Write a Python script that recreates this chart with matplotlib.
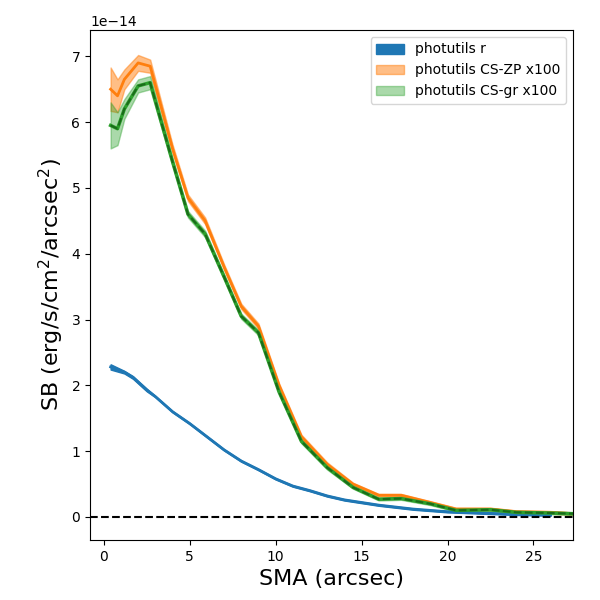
import numpy as np
import matplotlib
matplotlib.use("Agg")
import matplotlib.pyplot as plt

# blue profile (photutils r)
sma_r = [0.4, 0.8, 1.2, 1.7, 2.5, 3.0, 4.0, 5.0, 6.0, 7.0, 8.0, 9.0, 10.0, 11.0, 12.0,
         13.0, 14.0, 15.0, 16.0, 17.0, 18.0, 19.0, 20.0, 22.0, 24.0, 26.0]
sb_r = [2.28, 2.24, 2.2, 2.12, 1.93, 1.83, 1.6, 1.42, 1.22, 1.02, 0.85, 0.72, 0.58, 0.47, 0.4,
        0.32, 0.26, 0.22, 0.18, 0.15, 0.12, 0.10, 0.08, 0.06, 0.04, 0.03]
err_r = [0.04, 0.03, 0.02, 0.02, 0.02, 0.01, 0.01, 0.01, 0.01, 0.01, 0.01, 0.01, 0.01, 0.01, 0.01,
         0.01, 0.01, 0.01, 0.01, 0.01, 0.01, 0.01, 0.01, 0.01, 0.01, 0.01]

# colour-corrected profiles (x100)
sma_c = [0.4, 0.8, 1.2, 2.0, 2.7, 4.0, 4.9, 5.9, 7.0, 8.0, 9.0, 10.2, 11.5, 13.0, 14.5,
         16.0, 17.3, 19.0, 20.5, 22.5, 24.0, 26.0, 27.3]
sb_zp = [6.5, 6.4, 6.65, 6.9, 6.85, 5.6, 4.85, 4.5, 3.8, 3.2, 2.9, 2.0, 1.22, 0.8, 0.5,
         0.33, 0.33, 0.22, 0.12, 0.12, 0.08, 0.07, 0.05]
err_zp = [0.33, 0.25, 0.15, 0.12, 0.1, 0.06, 0.05, 0.05, 0.04, 0.04, 0.04, 0.03, 0.03, 0.03, 0.02,
          0.02, 0.02, 0.02, 0.02, 0.02, 0.02, 0.02, 0.02]
sb_gr = [5.95, 5.9, 6.2, 6.55, 6.6, 5.4, 4.6, 4.3, 3.65, 3.05, 2.8, 1.9, 1.15, 0.75, 0.45,
         0.27, 0.28, 0.2, 0.1, 0.11, 0.07, 0.06, 0.05]
err_gr = [0.35, 0.25, 0.15, 0.1, 0.1, 0.06, 0.05, 0.05, 0.04, 0.04, 0.04, 0.03, 0.03, 0.03, 0.02,
          0.02, 0.02, 0.02, 0.02, 0.02, 0.02, 0.02, 0.02]

scale = 1e-14
r = np.array(sb_r) * scale
er = np.array(err_r) * scale
zp = np.array(sb_zp) * scale
ezp = np.array(err_zp) * scale
gr = np.array(sb_gr) * scale
egr = np.array(err_gr) * scale

fig, ax = plt.subplots(figsize=(6, 6))
ax.fill_between(sma_r, r - er, r + er, color="C0", label="photutils r")
ax.plot(sma_r, r, color="C0", lw=2)
ax.fill_between(sma_c, zp - ezp, zp + ezp, color="C1", alpha=0.5, label="photutils CS-ZP x100")
ax.plot(sma_c, zp, color="C1", lw=2)
ax.fill_between(sma_c, gr - egr, gr + egr, color="C2", alpha=0.4, label="photutils CS-gr x100")
ax.plot(sma_c, gr, color="C2", lw=2.5)
ax.plot(sma_c, gr, color="#1a6b1a", lw=1.5, ls="--")
ax.axhline(0, color="k", ls="--")

ax.set_xlim(-0.8, 27.3)
ax.set_ylim(-0.35e-14, 7.4e-14)
ax.set_xlabel("SMA (arcsec)", fontsize=16)
ax.set_ylabel("SB (erg/s/cm$^2$/arcsec$^2$)", fontsize=16)
ax.legend(loc="upper right")
plt.subplots_adjust(left=0.15, right=0.955, top=0.95, bottom=0.1)
plt.savefig("out.png", dpi=100)
